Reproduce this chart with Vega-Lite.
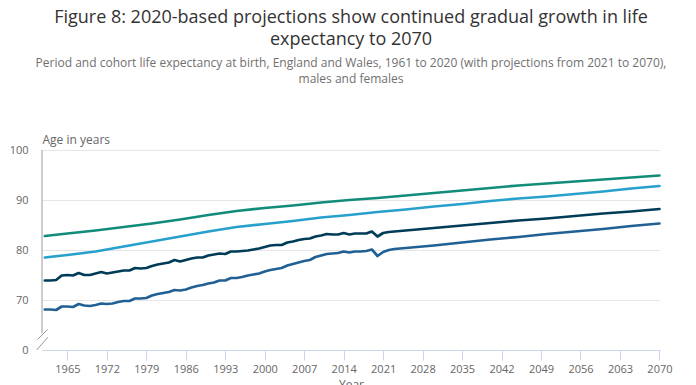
{
  "$schema": "https://vega.github.io/schema/vega-lite/v6.json",
  "width": 618,
  "height": 200,
  "autosize": {"type": "none"},
  "padding": {"left": 42, "top": 150, "right": 36, "bottom": 35},
  "config": {"view": {"stroke": null}, "font": "Open Sans"},
  "title": {
    "text": ["Figure 8: 2020-based projections show continued gradual growth in life", "expectancy to 2070"],
    "subtitle": ["Period and cohort life expectancy at birth, England and Wales, 1961 to 2020 (with projections from 2021 to 2070),", "males and females"],
    "font": "Open Sans",
    "fontSize": 18,
    "fontWeight": "normal",
    "color": "#333333",
    "lineHeight": 22,
    "subtitleFont": "Open Sans",
    "subtitleFontSize": 12,
    "subtitleColor": "#707070",
    "subtitleLineHeight": 16,
    "subtitlePadding": 9,
    "anchor": "middle",
    "offset": 48
  },
  "datasets": {
    "le": [
      {"s":"cf","x":1961,"v":82.8},{"s":"cf","x":1965,"v":83.3},{"s":"cf","x":1970,"v":83.9},{"s":"cf","x":1975,"v":84.6},{"s":"cf","x":1980,"v":85.3},{"s":"cf","x":1985,"v":86.1},{"s":"cf","x":1990,"v":87.0},{"s":"cf","x":1995,"v":87.8},{"s":"cf","x":2000,"v":88.4},{"s":"cf","x":2005,"v":88.9},{"s":"cf","x":2010,"v":89.5},{"s":"cf","x":2015,"v":90.0},{"s":"cf","x":2020,"v":90.4},{"s":"cf","x":2025,"v":90.9},{"s":"cf","x":2030,"v":91.4},{"s":"cf","x":2035,"v":91.9},{"s":"cf","x":2040,"v":92.4},{"s":"cf","x":2045,"v":92.9},{"s":"cf","x":2050,"v":93.3},{"s":"cf","x":2055,"v":93.7},{"s":"cf","x":2060,"v":94.1},{"s":"cf","x":2065,"v":94.5},{"s":"cf","x":2070,"v":94.9},
      {"s":"cm","x":1961,"v":78.5},{"s":"cm","x":1965,"v":79.0},{"s":"cm","x":1970,"v":79.7},{"s":"cm","x":1975,"v":80.7},{"s":"cm","x":1980,"v":81.7},{"s":"cm","x":1985,"v":82.7},{"s":"cm","x":1990,"v":83.7},{"s":"cm","x":1995,"v":84.6},{"s":"cm","x":2000,"v":85.2},{"s":"cm","x":2005,"v":85.8},{"s":"cm","x":2010,"v":86.5},{"s":"cm","x":2015,"v":87.0},{"s":"cm","x":2020,"v":87.6},{"s":"cm","x":2025,"v":88.1},{"s":"cm","x":2030,"v":88.7},{"s":"cm","x":2035,"v":89.2},{"s":"cm","x":2040,"v":89.8},{"s":"cm","x":2045,"v":90.3},{"s":"cm","x":2050,"v":90.7},{"s":"cm","x":2055,"v":91.2},{"s":"cm","x":2060,"v":91.7},{"s":"cm","x":2065,"v":92.3},{"s":"cm","x":2070,"v":92.8},
      {"s":"pf","x":1961,"v":73.9},{"s":"pf","x":1962,"v":73.9},{"s":"pf","x":1963,"v":74.0},{"s":"pf","x":1964,"v":74.9},{"s":"pf","x":1965,"v":75.0},{"s":"pf","x":1966,"v":74.9},{"s":"pf","x":1967,"v":75.4},{"s":"pf","x":1968,"v":75.0},{"s":"pf","x":1969,"v":75.0},{"s":"pf","x":1970,"v":75.3},{"s":"pf","x":1971,"v":75.6},{"s":"pf","x":1972,"v":75.3},{"s":"pf","x":1973,"v":75.5},{"s":"pf","x":1974,"v":75.7},{"s":"pf","x":1975,"v":75.9},{"s":"pf","x":1976,"v":75.9},{"s":"pf","x":1977,"v":76.4},{"s":"pf","x":1978,"v":76.3},{"s":"pf","x":1979,"v":76.4},{"s":"pf","x":1980,"v":76.8},{"s":"pf","x":1981,"v":77.1},{"s":"pf","x":1982,"v":77.3},{"s":"pf","x":1983,"v":77.5},{"s":"pf","x":1984,"v":78.0},{"s":"pf","x":1985,"v":77.7},{"s":"pf","x":1986,"v":78.0},{"s":"pf","x":1987,"v":78.3},{"s":"pf","x":1988,"v":78.5},{"s":"pf","x":1989,"v":78.5},{"s":"pf","x":1990,"v":78.9},{"s":"pf","x":1991,"v":79.1},{"s":"pf","x":1992,"v":79.3},{"s":"pf","x":1993,"v":79.2},{"s":"pf","x":1994,"v":79.7},{"s":"pf","x":1995,"v":79.7},{"s":"pf","x":1996,"v":79.8},{"s":"pf","x":1997,"v":79.9},{"s":"pf","x":1998,"v":80.1},{"s":"pf","x":1999,"v":80.3},{"s":"pf","x":2000,"v":80.6},{"s":"pf","x":2001,"v":80.9},{"s":"pf","x":2002,"v":81.0},{"s":"pf","x":2003,"v":81.0},{"s":"pf","x":2004,"v":81.5},{"s":"pf","x":2005,"v":81.7},{"s":"pf","x":2006,"v":82.0},{"s":"pf","x":2007,"v":82.2},{"s":"pf","x":2008,"v":82.3},{"s":"pf","x":2009,"v":82.7},{"s":"pf","x":2010,"v":82.9},{"s":"pf","x":2011,"v":83.2},{"s":"pf","x":2012,"v":83.1},{"s":"pf","x":2013,"v":83.1},{"s":"pf","x":2014,"v":83.4},{"s":"pf","x":2015,"v":83.1},{"s":"pf","x":2016,"v":83.3},{"s":"pf","x":2017,"v":83.3},{"s":"pf","x":2018,"v":83.3},{"s":"pf","x":2019,"v":83.7},{"s":"pf","x":2020,"v":82.7},{"s":"pf","x":2021,"v":83.4},{"s":"pf","x":2022,"v":83.6},{"s":"pf","x":2023,"v":83.7},{"s":"pf","x":2025,"v":83.9},{"s":"pf","x":2030,"v":84.4},{"s":"pf","x":2035,"v":84.9},{"s":"pf","x":2040,"v":85.4},{"s":"pf","x":2045,"v":85.9},{"s":"pf","x":2050,"v":86.3},{"s":"pf","x":2055,"v":86.8},{"s":"pf","x":2060,"v":87.3},{"s":"pf","x":2065,"v":87.7},{"s":"pf","x":2070,"v":88.2},
      {"s":"pm","x":1961,"v":68.1},{"s":"pm","x":1962,"v":68.1},{"s":"pm","x":1963,"v":68.0},{"s":"pm","x":1964,"v":68.7},{"s":"pm","x":1965,"v":68.7},{"s":"pm","x":1966,"v":68.6},{"s":"pm","x":1967,"v":69.2},{"s":"pm","x":1968,"v":68.9},{"s":"pm","x":1969,"v":68.8},{"s":"pm","x":1970,"v":69.0},{"s":"pm","x":1971,"v":69.3},{"s":"pm","x":1972,"v":69.2},{"s":"pm","x":1973,"v":69.3},{"s":"pm","x":1974,"v":69.6},{"s":"pm","x":1975,"v":69.8},{"s":"pm","x":1976,"v":69.8},{"s":"pm","x":1977,"v":70.3},{"s":"pm","x":1978,"v":70.3},{"s":"pm","x":1979,"v":70.4},{"s":"pm","x":1980,"v":70.9},{"s":"pm","x":1981,"v":71.2},{"s":"pm","x":1982,"v":71.4},{"s":"pm","x":1983,"v":71.6},{"s":"pm","x":1984,"v":72.0},{"s":"pm","x":1985,"v":71.9},{"s":"pm","x":1986,"v":72.1},{"s":"pm","x":1987,"v":72.5},{"s":"pm","x":1988,"v":72.8},{"s":"pm","x":1989,"v":73.0},{"s":"pm","x":1990,"v":73.3},{"s":"pm","x":1991,"v":73.5},{"s":"pm","x":1992,"v":73.9},{"s":"pm","x":1993,"v":73.9},{"s":"pm","x":1994,"v":74.4},{"s":"pm","x":1995,"v":74.4},{"s":"pm","x":1996,"v":74.6},{"s":"pm","x":1997,"v":74.9},{"s":"pm","x":1998,"v":75.1},{"s":"pm","x":1999,"v":75.3},{"s":"pm","x":2000,"v":75.7},{"s":"pm","x":2001,"v":76.0},{"s":"pm","x":2002,"v":76.2},{"s":"pm","x":2003,"v":76.4},{"s":"pm","x":2004,"v":76.9},{"s":"pm","x":2005,"v":77.2},{"s":"pm","x":2006,"v":77.5},{"s":"pm","x":2007,"v":77.8},{"s":"pm","x":2008,"v":78.0},{"s":"pm","x":2009,"v":78.6},{"s":"pm","x":2010,"v":78.9},{"s":"pm","x":2011,"v":79.2},{"s":"pm","x":2012,"v":79.3},{"s":"pm","x":2013,"v":79.4},{"s":"pm","x":2014,"v":79.7},{"s":"pm","x":2015,"v":79.5},{"s":"pm","x":2016,"v":79.7},{"s":"pm","x":2017,"v":79.7},{"s":"pm","x":2018,"v":79.8},{"s":"pm","x":2019,"v":80.1},{"s":"pm","x":2020,"v":78.8},{"s":"pm","x":2021,"v":79.6},{"s":"pm","x":2022,"v":80.0},{"s":"pm","x":2023,"v":80.2},{"s":"pm","x":2025,"v":80.4},{"s":"pm","x":2030,"v":80.9},{"s":"pm","x":2035,"v":81.5},{"s":"pm","x":2040,"v":82.1},{"s":"pm","x":2045,"v":82.6},{"s":"pm","x":2050,"v":83.2},{"s":"pm","x":2055,"v":83.7},{"s":"pm","x":2060,"v":84.2},{"s":"pm","x":2065,"v":84.8},{"s":"pm","x":2070,"v":85.3}
    ]
  },
  "layer": [
    {
      "data": {"name": "le"},
      "mark": {"type": "line", "strokeWidth": 2.7, "strokeJoin": "round", "strokeCap": "round"},
      "encoding": {
        "x": {
          "field": "x", "type": "quantitative",
          "scale": {"domain": [1960.5, 2070.1], "nice": false, "zero": false},
          "axis": {
            "values": [1965, 1972, 1979, 1986, 1993, 2000, 2007, 2014, 2021, 2028, 2035, 2042, 2049, 2056, 2063, 2070],
            "format": "d", "grid": false, "labelFlush": false, "labelOverlap": false,
            "domainColor": "#ccd6eb", "tickColor": "#ccd6eb", "tickSize": 10,
            "labelColor": "#666666", "labelFontSize": 11, "labelPadding": 3, "labelFont": "Open Sans",
            "title": "Year", "titleColor": "#666666", "titleFontSize": 12, "titleFontWeight": "normal", "titleFont": "Open Sans", "titlePadding": 5
          }
        },
        "y": {
          "field": "v", "type": "quantitative",
          "scale": {"domain": [60, 100], "nice": false, "zero": false},
          "axis": {
            "values": [60, 70, 80, 90, 100],
            "labelExpr": "datum.value == 60 ? '0' : datum.label",
            "grid": true, "gridColor": "#e6e6e6", "domain": false, "ticks": false,
            "labelColor": "#666666", "labelFontSize": 11, "labelPadding": 14, "labelFont": "Open Sans",
            "title": "Age in years", "titleAngle": 0, "titleX": 0, "titleY": -4, "titleAlign": "left", "titleBaseline": "bottom",
            "titleColor": "#666666", "titleFontSize": 12, "titleFontWeight": "normal", "titleFont": "Open Sans"
          }
        },
        "color": {
          "field": "s", "type": "nominal",
          "scale": {"domain": ["cf", "cm", "pf", "pm"], "range": ["#118c7b", "#27a0cc", "#003c57", "#206095"]},
          "legend": null
        }
      }
    },
    {
      "data": {"values": [{}]},
      "mark": {"type": "rule", "color": "#999999", "strokeWidth": 1},
      "encoding": {
        "x": {"datum": 1960.5, "type": "quantitative"},
        "y": {"datum": 63.4, "type": "quantitative"},
        "y2": {"datum": 100}
      }
    },
    {
      "data": {"values": [{}]},
      "mark": {"type": "rule", "color": "#999999", "strokeWidth": 1},
      "encoding": {
        "x": {"datum": 1959.74, "type": "quantitative"},
        "x2": {"datum": 1961.51},
        "y": {"datum": 62.14, "type": "quantitative"},
        "y2": {"datum": 64.14}
      }
    },
    {
      "data": {"values": [{}]},
      "mark": {"type": "rule", "color": "#999999", "strokeWidth": 1},
      "encoding": {
        "x": {"datum": 1959.56, "type": "quantitative"},
        "x2": {"datum": 1961.51},
        "y": {"datum": 60.0, "type": "quantitative"},
        "y2": {"datum": 62.54}
      }
    }
  ]
}
